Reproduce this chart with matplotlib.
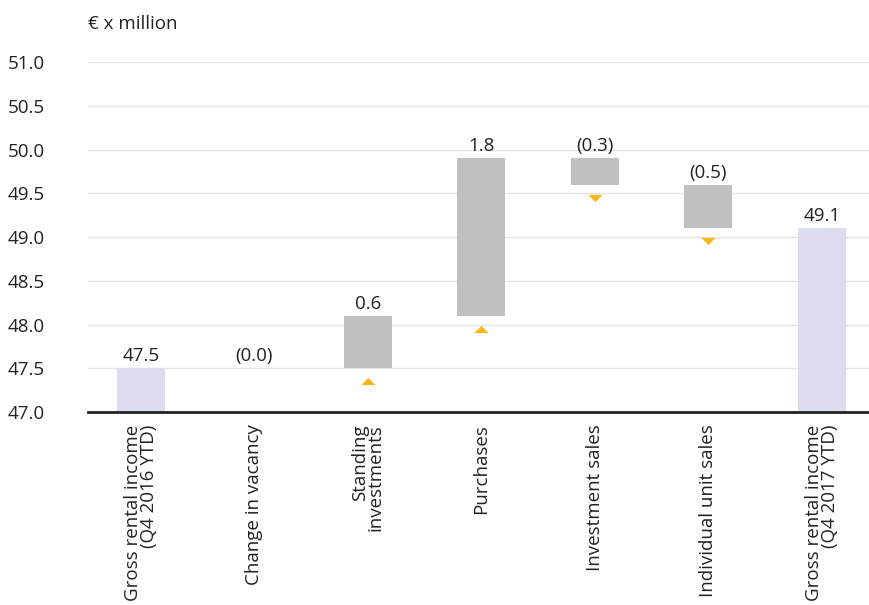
import matplotlib
matplotlib.use("Agg")
import matplotlib.pyplot as plt
from matplotlib.path import Path
import numpy as np

plt.rcParams['font.family'] = ['Open Sans', 'DejaVu Sans']

categories = ["Gross rental income\n(Q4 2016 YTD)", "Change in vacancy",
              "Standing\ninvestments", "Purchases", "Investment sales",
              "Individual unit sales", "Gross rental income\n(Q4 2017 YTD)"]
start_value = 47.5
changes = [0.0, 0.6, 1.8, -0.3, -0.5]
end_value = 49.1
value_labels = ["47.5", "(0.0)", "0.6", "1.8", "(0.3)", "(0.5)", "49.1"]
yticks = [47.0, 47.5, 48.0, 48.5, 49.0, 49.5, 50.0, 50.5, 51.0]

base = 47.0
total_color = "#dcdcf0"
delta_color = "#c1c1c1"
marker_color = "#fbb615"
text_color = "#222222"
fs = 13.5

up_tri = Path([(-1, -0.5), (1, -0.5), (0, 0.5), (-1, -0.5)],
              [Path.MOVETO, Path.LINETO, Path.LINETO, Path.CLOSEPOLY])
down_tri = Path([(-1, 0.5), (1, 0.5), (0, -0.5), (-1, 0.5)],
                [Path.MOVETO, Path.LINETO, Path.LINETO, Path.CLOSEPOLY])

fig = plt.figure(figsize=(8.7, 6.05), dpi=100)
ax = fig.add_axes([0.101, 0.319, 0.899, 0.5785])

x = np.arange(len(categories))
width = 0.423

ax.bar(x[0], start_value - base, bottom=base, width=width, color=total_color, zorder=2)
ax.bar(x[-1], end_value - base, bottom=base, width=width, color=total_color, zorder=2)

tops = [start_value]
running = start_value
for i, c in enumerate(changes):
    xi = x[i + 1]
    lo, hi = (running, running + c) if c >= 0 else (running + c, running)
    if c != 0:
        ax.bar(xi, hi - lo, bottom=lo, width=width, color=delta_color, zorder=2)
        ax.scatter([xi], [lo - 0.15], marker=up_tri if c > 0 else down_tri, s=105,
                   color=marker_color, zorder=3, linewidths=0)
    tops.append(hi)
    running += c
tops.append(end_value)

for xi, t, lab in zip(x, tops, value_labels):
    ax.annotate(lab, (xi, t), xytext=(0, 2), textcoords='offset points',
                ha='center', va='bottom', fontsize=fs, color=text_color)

ax.set_xlim(-0.467, 6.423)
ax.set_ylim(base, 51.0)
ax.set_yticks(yticks)
ax.set_yticklabels([f"{v:.1f}" for v in yticks], fontsize=fs, color=text_color)
ax.yaxis.grid(True, color='#e4e4e4', linewidth=1, zorder=0)
ax.set_axisbelow(True)
ax.tick_params(axis='y', length=0, pad=57.6)
for lbl in ax.get_yticklabels():
    lbl.set_horizontalalignment('left')

ax.set_xticks(x)
ax.set_xticklabels(categories, rotation=90, fontsize=fs, color=text_color,
                   va='top', ha='center', multialignment='right',
                   linespacing=0.85)
ax.tick_params(axis='x', length=0, pad=9)

for s in ['top', 'right', 'left']:
    ax.spines[s].set_visible(False)
ax.spines['bottom'].set_color(text_color)
ax.spines['bottom'].set_linewidth(2)
ax.spines['bottom'].set_zorder(4)

fig.text(88 / 870, 1 - 24 / 605, "€ x million", fontsize=fs, color=text_color,
         ha='left', va='center')

fig.savefig("out.png", dpi=100)
